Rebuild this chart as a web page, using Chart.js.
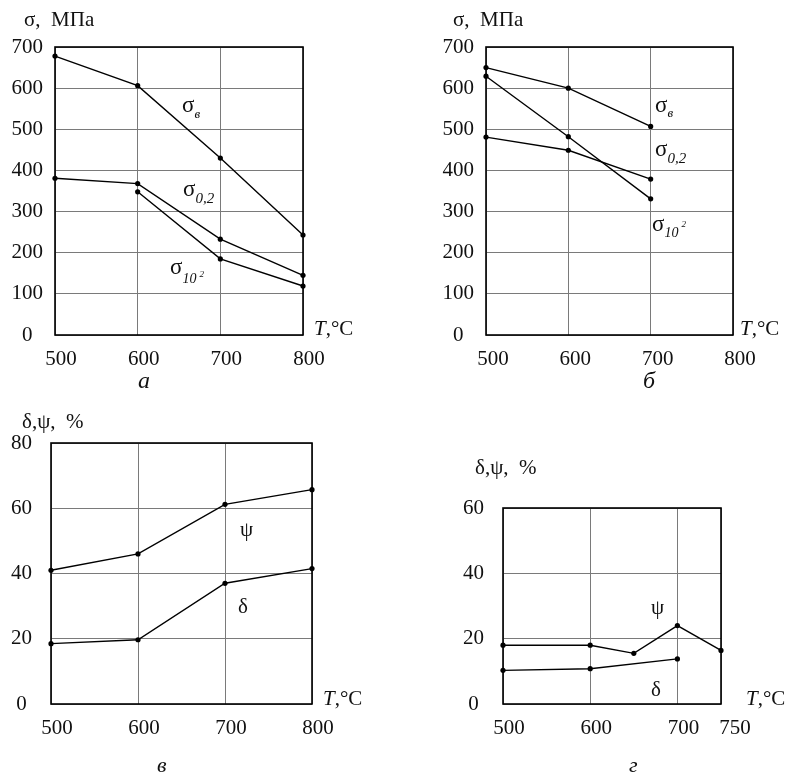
<!DOCTYPE html>
<html><head><meta charset="utf-8">
<script src="https://cdn.jsdelivr.net/npm/chart.js@4"></script>
<style>
html,body{margin:0;padding:0;background:#fff;}
#wrap{position:relative;width:788px;height:776px;background:#fff;}
#wrap canvas{position:absolute;left:0;top:0;}
</style></head><body>
<div id="wrap">
<canvas id="cA" width="788" height="776"></canvas>
<canvas id="cB" width="788" height="776"></canvas>
<canvas id="cV" width="788" height="776"></canvas>
<canvas id="cG" width="788" height="776"></canvas>
</div>
<script>
// ---- Panel а: σ, МПа vs T ----
const tempA = [500, 600, 700, 800];
const sigmaUltA = [678, 606, 430, 243];
const sigmaYieldA = [381, 368, 233, 145];
const tempCreepA = [600, 700, 800];
const sigmaCreepA = [348, 185, 119];

// ---- Panel б ----
const tempB = [500, 600, 700];
const sigmaUltB = [650, 600, 507];
const sigmaYieldB = [481, 449, 379];
const sigmaCreepB = [629, 482, 331];

// ---- Panel в: δ, ψ, % ----
const tempV = [500, 600, 700, 800];
const psiV = [41, 46, 61.2, 65.7];
const deltaV = [18.5, 19.7, 37, 41.5];

// ---- Panel г ----
const tempPsiG = [500, 600, 650, 700, 750];
const psiG = [18, 18, 15.5, 24, 16.4];
const tempDeltaG = [500, 600, 700];
const deltaG = [10.3, 10.8, 13.8];

// ---- Tick labels ----
const xTicksSigma = [500, 600, 700, 800];
const yTicksSigma = [0, 100, 200, 300, 400, 500, 600, 700];
const xTicksV = [500, 600, 700, 800];
const yTicksV = [0, 20, 40, 60, 80];
const xTicksG = [500, 600, 700, 750];
const yTicksG = [0, 20, 40, 60];

const FONT = '"Liberation Serif","Times New Roman",serif';
const INK = '#111';

function series(xs, ys) {
  return {
    data: xs.map((x, i) => ({ x: x, y: ys[i] })),
    showLine: true, borderColor: '#000', borderWidth: 1.4,
    pointRadius: 2.6, pointBackgroundColor: '#000', pointBorderColor: '#000',
    pointBorderWidth: 0, clip: false, tension: 0
  };
}

function drawRich(ctx, x, y, parts) {
  let cx = x;
  for (const p of parts) {
    ctx.font = p.f + ' ' + FONT;
    const dx = p.dx || 0;
    ctx.fillText(p.t, cx + dx, y + (p.dy || 0));
    cx += dx + ctx.measureText(p.t).width;
  }
}

function makeChart(id, area, datasets, xTicks, yTicks, opt) {
  const notesPlugin = {
    id: 'notes',
    beforeDatasetsDraw(chart) {
      const a = chart.chartArea, c = chart.ctx;
      c.save();
      c.strokeStyle = '#000'; c.lineWidth = 1.6;
      c.strokeRect(a.left, a.top, a.right - a.left, a.bottom - a.top);
      c.restore();
    },
    afterDraw(chart) {
      const c = chart.ctx;
      c.save();
      c.fillStyle = INK; c.textBaseline = 'alphabetic'; c.textAlign = 'left';
      for (const n of opt.notes) drawRich(c, n.x, n.y, n.parts);
      c.restore();
    }
  };
  return new Chart(document.getElementById(id), {
    type: 'scatter',
    data: { datasets: datasets },
    options: {
      responsive: false, maintainAspectRatio: false, animation: false,
      layout: { padding: { left: 0, top: area.top, right: 788 - area.right, bottom: 0 } },
      plugins: { legend: { display: false }, tooltip: { enabled: false } },
      scales: {
        x: {
          type: 'linear', min: xTicks[0], max: xTicks[xTicks.length - 1],
          afterBuildTicks: s => { s.ticks = xTicks.map(v => ({ value: v })); },
          afterFit: s => { s.height = 776 - area.bottom; },
          grid: { color: '#7a7a7a', lineWidth: 1, drawTicks: false },
          border: { display: false },
          ticks: {
            autoSkip: false, maxRotation: 0, padding: opt.xPad, labelOffset: opt.xOff,
            color: INK, font: { family: FONT, size: 21 },
            callback: v => (opt.xLabel ? opt.xLabel(v) : String(v))
          }
        },
        y: {
          type: 'linear', min: yTicks[0], max: yTicks[yTicks.length - 1],
          afterBuildTicks: s => { s.ticks = yTicks.map(v => ({ value: v })); },
          afterFit: s => { s.width = area.left; },
          grid: { color: '#7a7a7a', lineWidth: 1, drawTicks: false },
          border: { display: false },
          ticks: {
            autoSkip: false, padding: opt.yPad,
            color: INK, font: { family: FONT, size: 21 },
            callback: v => (v === 0 ? '0' + opt.zeroPad : String(v))
          }
        }
      }
    },
    plugins: [notesPlugin]
  });
}

const Tlabel = (x, y) => ({ x: x, y: y, parts: [{ t: 'T', f: 'italic 21px' }, { t: ',°C', f: '21px' }] });
const sigLabel = (x, y) => ({ x: x, y: y, parts: [{ t: 'σ,  МПа', f: '21px' }] });
const dpLabel = (x, y) => ({ x: x, y: y, parts: [{ t: 'δ,ψ,  %', f: '21px' }] });

// а
makeChart('cA', { left: 55, right: 303, top: 47, bottom: 335 },
  [series(tempA, sigmaUltA), series(tempA, sigmaYieldA), series(tempCreepA, sigmaCreepA)],
  xTicksSigma, yTicksSigma,
  { xPad: 12, xOff: 6, yPad: 12, zeroPad: '  ',
    notes: [
      sigLabel(24, 26), Tlabel(314, 335),
      { x: 138, y: 388, parts: [{ t: 'а', f: 'italic 24px' }] },
      { x: 182, y: 112, parts: [{ t: 'σ', f: '23px' }, { t: 'в', f: 'italic 13px', dy: 6 }] },
      { x: 183, y: 196, parts: [{ t: 'σ', f: '23px' }, { t: '0,2', f: 'italic 15px', dy: 7 }] },
      { x: 170, y: 274, parts: [{ t: 'σ', f: '23px' }, { t: '10', f: 'italic 14px', dy: 9 }, { t: '2', f: 'italic 9px', dy: 3, dx: 3 }] }
    ] });

// б
makeChart('cB', { left: 486, right: 733, top: 47, bottom: 335 },
  [series(tempB, sigmaUltB), series(tempB, sigmaYieldB), series(tempB, sigmaCreepB)],
  xTicksSigma, yTicksSigma,
  { xPad: 12, xOff: 7, yPad: 12, zeroPad: '  ',
    notes: [
      sigLabel(453, 26), Tlabel(740, 335),
      { x: 643, y: 388, parts: [{ t: 'б', f: 'italic 24px' }] },
      { x: 655, y: 112, parts: [{ t: 'σ', f: '23px' }, { t: 'в', f: 'italic 13px', dy: 5 }] },
      { x: 655, y: 156, parts: [{ t: 'σ', f: '23px' }, { t: '0,2', f: 'italic 15px', dy: 7 }] },
      { x: 652, y: 231, parts: [{ t: 'σ', f: '23px' }, { t: '10', f: 'italic 14px', dy: 6 }, { t: '2', f: 'italic 9px', dy: -4, dx: 3 }] }
    ] });

// в
makeChart('cV', { left: 51, right: 312, top: 443, bottom: 704 },
  [series(tempV, psiV), series(tempV, deltaV)],
  xTicksV, yTicksV,
  { xPad: 12, xOff: 6, yPad: 19, zeroPad: ' ',
    notes: [
      dpLabel(22, 428), Tlabel(323, 705),
      { x: 157, y: 772, parts: [{ t: 'в', f: 'italic 22px' }] },
      { x: 240, y: 536, parts: [{ t: 'ψ', f: '21px' }] },
      { x: 238, y: 613, parts: [{ t: 'δ', f: '21px' }] }
    ] });

// г
makeChart('cG', { left: 503, right: 721, top: 508, bottom: 704 },
  [series(tempPsiG, psiG), series(tempDeltaG, deltaG)],
  xTicksG, yTicksG,
  { xPad: 12, xOff: 6, yPad: 19, zeroPad: ' ',
    xLabel: v => (v === 750 ? '   750' : String(v)),
    notes: [
      dpLabel(475, 474), Tlabel(746, 705),
      { x: 629, y: 772, parts: [{ t: 'г', f: 'italic 22px' }] },
      { x: 651, y: 614, parts: [{ t: 'ψ', f: '21px' }] },
      { x: 651, y: 696, parts: [{ t: 'δ', f: '21px' }] }
    ] });
</script>
</body></html>
